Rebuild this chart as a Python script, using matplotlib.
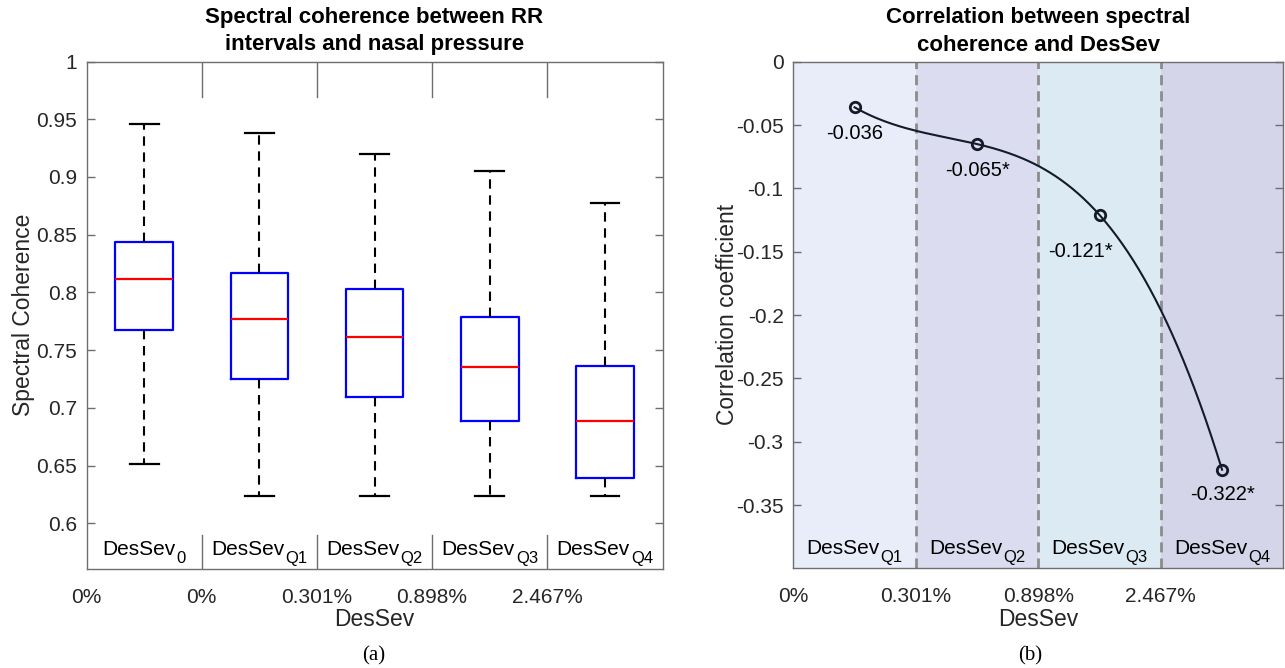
import numpy as np
import matplotlib
matplotlib.use('Agg')
import matplotlib.pyplot as plt
from matplotlib.transforms import offset_copy

plt.rcParams['font.family'] = ['Liberation Sans', 'DejaVu Sans']

# ===== data (a): box plot stats =====
groups_a = ['0', 'Q1', 'Q2', 'Q3', 'Q4']   # subscripts of DesSev
whisk_hi = [0.946, 0.938, 0.920, 0.905, 0.877]
q3 = [0.844, 0.817, 0.803, 0.779, 0.736]
med = [0.812, 0.777, 0.761, 0.735, 0.689]
q1 = [0.767, 0.725, 0.709, 0.689, 0.639]
whisk_lo = [0.651, 0.624, 0.624, 0.624, 0.624]
edge_labels_a = ['0%', '0%', '0.301%', '0.898%', '2.467%']

# ===== data (b): correlation per quartile =====
groups_b = ['Q1', 'Q2', 'Q3', 'Q4']
corr = [-0.036, -0.065, -0.121, -0.322]
corr_txt = ['-0.036', '-0.065*', '-0.121*', '-0.322*']
edge_labels_b = ['0%', '0.301%', '0.898%', '2.467%']
bg_cols = ['#e9edf9', '#dcdcf0', '#dceaf4', '#d5d5ea']

spine_c = '#6e6e6e'
txt_c = '#262626'

fig = plt.figure(figsize=(12.85, 6.68), dpi=100)
ax1 = fig.add_axes([86.5 / 1285, 1 - 568.5 / 668, 576 / 1285, 507 / 668])
ax2 = fig.add_axes([793.3 / 1285, 1 - 568 / 668, 490 / 1285, 506.3 / 668])
renderer = fig.canvas.get_renderer()


def sub_label(ax, x, sub):
    # "DesSev" with a lowered subscript, centred on x
    fs, fs_sub = 15, 12
    t = ax.text(x, 0.027, 'DesSev', transform=ax.get_xaxis_transform(),
                ha='left', va='baseline', fontsize=fs, color='black')
    s = ax.text(x, 0.027, sub, transform=ax.get_xaxis_transform(),
                ha='left', va='baseline', fontsize=fs_sub, color='black')
    w1 = t.get_window_extent(renderer).width
    w2 = s.get_window_extent(renderer).width
    tot = w1 + w2 + 1
    t.set_transform(offset_copy(ax.get_xaxis_transform(), fig=fig,
                                x=-tot / 2, y=0, units='dots'))
    s.set_transform(offset_copy(ax.get_xaxis_transform(), fig=fig,
                                x=-tot / 2 + w1 + 1, y=-8, units='dots'))


# ---------- (a) ----------
stats = []
for i in range(len(groups_a)):
    stats.append(dict(whislo=whisk_lo[i], q1=q1[i], med=med[i], q3=q3[i],
                      whishi=whisk_hi[i], fliers=[]))
pos = np.arange(1, len(groups_a) + 1)
ax1.bxp(stats, positions=pos, widths=0.5, capwidths=0.25, showfliers=False,
        boxprops=dict(color='#0000ff', lw=1.6),
        medianprops=dict(color='#ff0000', lw=1.6),
        whiskerprops=dict(color='black', lw=1.5, ls=(0, (4.5, 3.2))),
        capprops=dict(color='black', lw=1.6))
ax1.set_xlim(0.5, len(groups_a) + 0.5)
ax1.set_ylim(0.5608, 1.0)
ax1.set_yticks(np.arange(0.6, 1.001, 0.05))
ax1.set_yticklabels(['0.6', '0.65', '0.7', '0.75', '0.8', '0.85', '0.9', '0.95', '1'])
for k in range(1, len(groups_a)):
    ax1.axvline(k + 0.5, ymin=0, ymax=0.067, color=spine_c, lw=1)
    ax1.axvline(k + 0.5, ymin=0.929, ymax=1, color=spine_c, lw=1)
for i, g in enumerate(groups_a):
    sub_label(ax1, pos[i], g)
ax1.set_xticks(np.arange(0.5, len(groups_a)))
ax1.set_xticklabels(edge_labels_a)
ax1.set_ylabel('Spectral Coherence', fontsize=16.5, color=txt_c, labelpad=1)
ax1.set_xlabel('DesSev', fontsize=16.5, color=txt_c, labelpad=1)
ax1.set_title('Spectral coherence between RR\nintervals and nasal pressure',
              fontsize=16, fontweight='bold', pad=8, linespacing=1.4)

# ---------- (b) ----------
xb = np.arange(len(corr)) + 0.5
for i, c in enumerate(bg_cols):
    ax2.axvspan(i, i + 1, color=c, lw=0, zorder=0)
for k in range(1, len(corr)):
    ax2.axvline(k, color='#8c8c8c', lw=2, ls=(0, (3.6, 2.2)), zorder=1)
# smooth curve through the 4 points (cubic through them, like MATLAB spline)
cf = np.polyfit(xb, corr, 3)
xs = np.linspace(xb[0], xb[-1], 200)
ax2.plot(xs, np.polyval(cf, xs), color='#141a28', lw=1.5, zorder=2)
ax2.plot(xb, corr, 'o', ms=7.5, mfc='none', mec='#141a28', mew=2, zorder=3)
offs = [(0, -26), (0, -26), (-19, -36), (0, -25)]
for i in range(len(corr)):
    ax2.annotate(corr_txt[i], (xb[i], corr[i]), xytext=offs[i],
                 textcoords='offset pixels', ha='center', va='center',
                 fontsize=14.5, color='black', zorder=4)
for i, g in enumerate(groups_b):
    sub_label(ax2, xb[i], g)
ax2.set_xlim(0, len(corr))
ax2.set_ylim(-0.3996, 0)
ax2.set_yticks([-0.35, -0.3, -0.25, -0.2, -0.15, -0.1, -0.05, 0])
ax2.set_yticklabels(['-0.35', '-0.3', '-0.25', '-0.2', '-0.15', '-0.1', '-0.05', '0'])
ax2.set_xticks(np.arange(len(corr)))
ax2.set_xticklabels(edge_labels_b)
ax2.set_ylabel('Correlation coefficient', fontsize=16.5, color=txt_c, labelpad=-2)
ax2.set_xlabel('DesSev', fontsize=16.5, color=txt_c, labelpad=1)
ax2.set_title('Correlation between spectral\ncoherence and DesSev',
              fontsize=16, fontweight='bold', pad=8, linespacing=1.4)

for ax in (ax1, ax2):
    for s in ax.spines.values():
        s.set_color(spine_c)
        s.set_linewidth(1)
    ax.tick_params(axis='y', direction='in', length=6, width=1, color=spine_c,
                   labelsize=15, labelcolor=txt_c, right=True, pad=7)
    ax.tick_params(axis='x', length=0, labelsize=15, labelcolor=txt_c, pad=14)

fig.text(374 / 1285, 1 - 656 / 668, '(a)', ha='center', va='center',
         fontsize=15, family='Liberation Serif')
fig.text(1030 / 1285, 1 - 656 / 668, '(b)', ha='center', va='center',
         fontsize=15, family='Liberation Serif')

fig.savefig('out.png', dpi=100)
